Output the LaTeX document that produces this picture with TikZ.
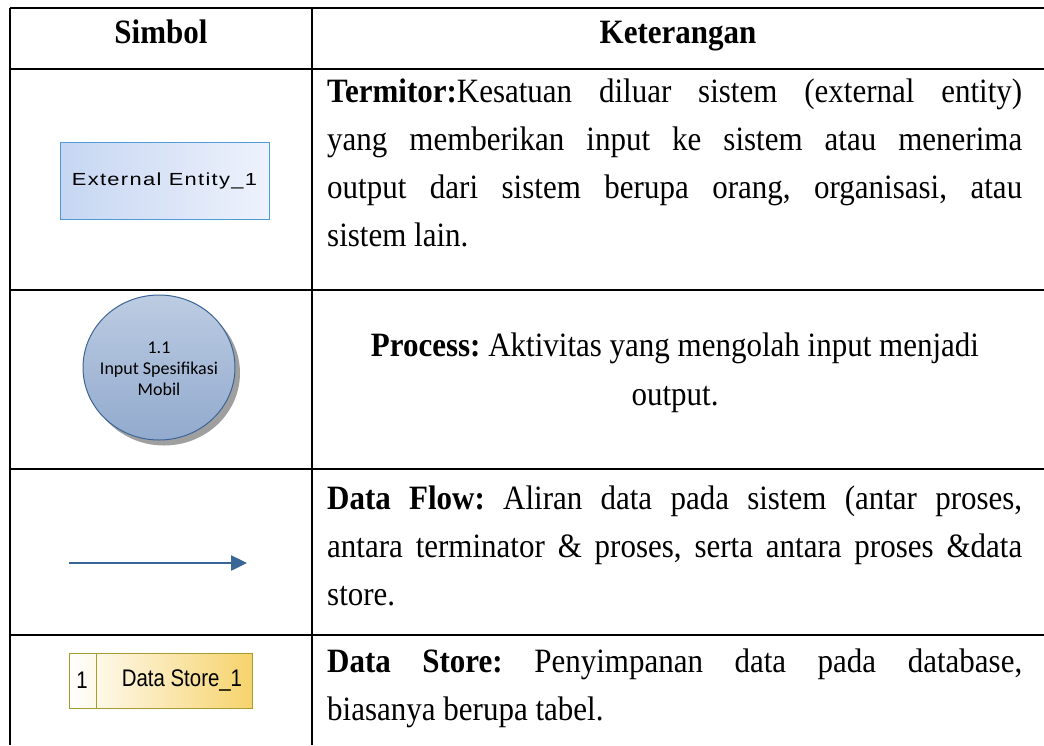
\documentclass[tikz,border=0pt]{standalone}
\usepackage{fontspec}
\usepackage{graphicx}
\setmainfont{Liberation Serif}
\newfontfamily\arialls{Liberation Sans}[LetterSpace=6]
\newfontfamily\arialf{Liberation Sans}
\newfontfamily\calibrif{Carlito}
\usetikzlibrary{arrows.meta,shapes.geometric}
\frenchspacing
\definecolor{entA}{RGB}{198,214,242}
\definecolor{entB}{RGB}{238,242,252}
\definecolor{entLine}{RGB}{79,155,217}
\definecolor{procTop}{RGB}{188,204,226}
\definecolor{procBot}{RGB}{146,170,206}
\definecolor{procLine}{RGB}{61,100,151}
\definecolor{flowC}{RGB}{58,101,151}
\definecolor{dsLine}{RGB}{165,157,48}
\definecolor{dsGold}{RGB}{246,211,108}
\newcommand{\vsc}[1]{\scalebox{1}[1.1]{#1}}
\newcommand{\jline}[1]{\vsc{\hbox to 695pt{#1}}}
\tikzset{
  grid line/.style={line width=2.5pt,black},
  bodytext/.style={inner sep=0pt,anchor=base west,font=\fontsize{31}{48}\selectfont},
  ctext/.style={inner sep=0pt,anchor=base,font=\fontsize{31}{48}\selectfont},
  headtext/.style={inner sep=0pt,anchor=base,font=\fontsize{31}{48}\selectfont\bfseries},
  entitybox/.style={draw=entLine,line width=1pt,left color=entA,right color=entB,minimum width=209pt,minimum height=77pt,inner sep=0pt},
  procshape/.style={ellipse,draw=procLine,line width=1pt,top color=procTop,bottom color=procBot,minimum width=152pt,minimum height=145pt,inner sep=0pt},
  flowarrow/.style={draw=flowC,line width=2.5pt,-{Triangle[length=16pt,width=15pt]}},
  storebox/.style={draw=dsLine,line width=1pt,left color=white,right color=dsGold,minimum width=183pt,minimum height=55pt,inner sep=0pt},
}
\begin{document}
\begin{tikzpicture}[x=1pt,y=-1pt]
\useasboundingbox (0,0) rectangle (1044,745);
% table grid
\draw[grid line] (10,8) -- (1044,8);
\draw[grid line] (10,69) -- (1044,69);
\draw[grid line] (10,290) -- (1044,290);
\draw[grid line] (10,469) -- (1044,469);
\draw[grid line] (10,635) -- (1044,635);
\draw[grid line] (10,8) -- (10,745);
\draw[grid line] (312,8) -- (312,745);
% headers
\node[headtext] (hSimbol) at (161,43) {\vsc{Simbol}};
\node[headtext] (hKet) at (678,43) {\vsc{Keterangan}};
% row 1 symbol
\node[entitybox] (entity) at (164.5,180.5) {\scalebox{1.25}[1]{\fontsize{17.5}{19}\arialls External Entity\_1}};
% row 2 symbol
\fill[gray!75] (164,373) ellipse [x radius=76pt,y radius=72.5pt];
\node[procshape] (proc) at (159,367.5) {};
\node[inner sep=0pt,align=center,font=\fontsize{18}{21}\calibrif] (proctext) at (159,369) {1.1\\Input Spesifikasi\\Mobil};
% row 3 symbol
\coordinate (fs) at (69,563);
\coordinate (fe) at (247,563);
\draw[flowarrow] (fs) -- (fe);
% row 4 symbol
\node[storebox] (store) at (160.5,680.5) {};
\draw[dsLine,line width=1pt] (96.5,653) -- (96.5,708);
\node[inner sep=0pt,font=\fontsize{24}{26}\arialf] (storeid) at (82,680) {\scalebox{0.85}[1]{1}};
\node[inner sep=0pt,font=\fontsize{24}{26}\arialf] (storename) at (182,680) {\scalebox{0.85}[1]{Data Store\_1}};
% row 1 text
\node[bodytext] (r1a) at (327,102) {\jline{\textbf{Termitor:}Kesatuan diluar sistem (external entity)}};
\node[bodytext] (r1b) at (327,150) {\jline{yang memberikan input ke sistem atau menerima}};
\node[bodytext] (r1c) at (327,198) {\jline{output dari sistem berupa orang, organisasi, atau}};
\node[bodytext] (r1d) at (327,246) {\vsc{sistem lain.}};
% row 2 text
\node[ctext] (r2a) at (675,356) {\vsc{\textbf{Process:} Aktivitas yang mengolah input menjadi}};
\node[ctext] (r2b) at (675,405) {\vsc{output.}};
% row 3 text
\node[bodytext] (r3a) at (327,509) {\jline{\textbf{Data Flow:} Aliran data pada sistem (antar proses,}};
\node[bodytext] (r3b) at (327,557) {\jline{antara terminator \& proses, serta antara proses \&data}};
\node[bodytext] (r3c) at (327,605) {\vsc{store.}};
% row 4 text
\node[bodytext] (r4a) at (327,672) {\jline{\textbf{Data Store:} Penyimpanan data pada database,}};
\node[bodytext] (r4b) at (327,720) {\vsc{biasanya berupa tabel.}};
\end{tikzpicture}
\end{document}
